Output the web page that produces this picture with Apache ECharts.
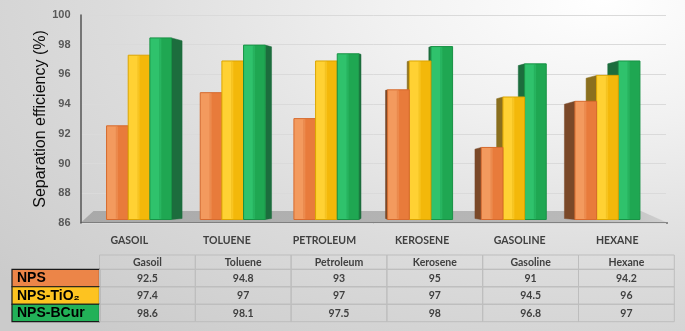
<!DOCTYPE html>
<html>
<head>
<meta charset="utf-8">
<script src="https://cdn.jsdelivr.net/npm/echarts@6.0.0/dist/echarts.min.js"></script>
<style>
    html, body { margin: 0; padding: 0; }
    #main {
        width: 685px; height: 331px;
        background: radial-gradient(ellipse 115% 130% at 88% 0%, #ffffff 0%, #f1f1f1 28%, #dcdcdc 62%, #cbcbcb 100%);
    }
</style>
</head>
<body>
<div id="main"></div>
<script>
// chart data
var categories = ['GASOIL', 'TOLUENE', 'PETROLEUM', 'KEROSENE', 'GASOLINE', 'HEXANE'];
var tableNames = ['Gasoil', 'Toluene', 'Petroleum', 'Kerosene', 'Gasoline', 'Hexane'];
var seriesNames = ['NPS', 'NPS-TiO\u2082', 'NPS-BCur'];
var npsValues = [92.5, 94.8, 93, 95, 91, 94.2];
var tio2Values = [97.4, 97, 97, 97, 94.5, 96];
var bcurValues = [98.6, 98.1, 97.5, 98, 96.8, 97];
var yMin = 86, yMax = 100, yStep = 2;

var allValues = [npsValues, tio2Values, bcurValues];

// colours: [front light, front dark, edge, side]
var palette = [
    ['#f39a5e', '#e87b3b', '#d66a2d', '#7a4828'],
    ['#ffd133', '#f3b80a', '#dca500', '#8a6f1e'],
    ['#2fc26c', '#1fa752', '#189245', '#1c6d3d'],
    ];
var legendFill = ['#ec8548', '#fdc320', '#22b158'];

var gridLeft = 80.5, gridRight = 19, gridTop = 15, gridBottom = 108;

var myChart = echarts.init(document.getElementById('main'));

var renderBar = function (sIdx) {
    return function (params, api) {
        var cat = api.value(0), v = api.value(1);
        var top = api.coord([cat, v]);
        var base = api.coord([cat, yMin]);
        var band = api.size([1, 0])[0];
        var cs = params.coordSys;
        var cx = cs.x + cs.width / 2;
        var bw = band * 0.222;
        // bars stand a little behind the axis plane
        var center = cx + (top[0] - cx) * 0.96;
        var x0 = center - 1.5 * bw + sIdx * bw, x1 = x0 + bw;
        var yb = base[1] - 3.5;
        var yt = yb - (base[1] - top[1]) * 0.97;
        var dx = (cx - center) * 0.045;
        var dy = Math.abs(dx) / 11 * 3;
        var c = palette[sIdx];
        var z = dx >= 0 ? sIdx : 2 - sIdx;
        var ex = dx >= 0 ? x1 : x0;
        return {
            type: 'group',
            children: [{
                type: 'polygon',
                z2: z * 3,
                shape: {points: [[ex, yt], [ex + dx, yt + dy], [ex + dx, yb - 1], [ex, yb]]},
                style: {fill: c[3], stroke: c[3], lineWidth: 0.5}
            }, {
                type: 'rect',
                z2: z * 3 + 1,
                shape: {x: x0, y: yt, width: bw, height: yb - yt},
                style: {
                    fill: new echarts.graphic.LinearGradient(0, 0, 1, 0, [
                        {offset: 0, color: c[0]},
                        {offset: 0.45, color: c[0]},
                        {offset: 0.55, color: c[1]},
                        {offset: 1, color: c[1]}
                    ]),
                    stroke: c[2],
                    lineWidth: 1
                }
            }, {
                type: 'line',
                z2: z * 3 + 2,
                shape: {x1: x0 + bw * 0.45, y1: yt + 1, x2: x0 + bw * 0.45, y2: yb - 1},
                style: {stroke: c[2], opacity: 0.35, lineWidth: 1}
            }]
        };
    };
};

var series = allValues.map(function (vals, s) {
    return {
        name: seriesNames[s],
        type: 'custom',
        renderItem: renderBar(s),
        encode: {x: 0, y: 1},
        data: vals.map(function (v, i) {
            return [i, v];
        })
    };
});

// floor under the bars + data table
var chartW = 685;
var floorY = 331 - gridBottom;
var floorRight = chartW - gridRight;
var graphics = [{
    type: 'polygon',
    z: 0,
    shape: {points: [[gridLeft, floorY], [floorRight + 2, floorY], [floorRight - 25, floorY - 12], [gridLeft + 13, floorY - 12]]},
    style: {
        fill: new echarts.graphic.LinearGradient(0, 0, 1, 0, [
            {offset: 0, color: '#a9a9a9'},
            {offset: 0.85, color: '#b9b9b9'},
            {offset: 1, color: '#cfcfcf'}
        ])
    }
}, {
    type: 'line',
    z: 0,
    shape: {x1: gridLeft, y1: floorY, x2: floorRight + 2, y2: floorY},
    style: {stroke: '#6f6f6f', lineWidth: 1.5}
}];

var tbl = {left: 99.5, colW: 95.8, headTop: 255, headH: 14.3, rowH: 17.47, legLeft: 12};
var cellFont = 'bold 10.5px Lato';
tableNames.forEach(function (n, i) {
    var x = tbl.left + i * tbl.colW;
    graphics.push({
        type: 'rect',
        shape: {x: x, y: tbl.headTop, width: tbl.colW, height: tbl.headH},
        style: {fill: 'none', stroke: '#bdbdbd', lineWidth: 1}
    });
    graphics.push({
        type: 'text',
        x: x + tbl.colW / 2, y: tbl.headTop + tbl.headH / 2 + 0.5,
        style: {text: n, font: cellFont, fill: '#404040', align: 'center', verticalAlign: 'middle', textAlign: 'center', textVerticalAlign: 'middle'}
    });
});
allValues.forEach(function (vals, r) {
    var y = tbl.headTop + tbl.headH + r * tbl.rowH;
    graphics.push({
        type: 'rect',
        shape: {x: tbl.legLeft, y: y, width: tbl.left - tbl.legLeft, height: tbl.rowH},
        style: {fill: legendFill[r], stroke: '#1a1a1a', lineWidth: 1.2}
    });
    graphics.push({
        type: 'text',
        x: tbl.legLeft + 5, y: y + tbl.rowH / 2 + 0.5,
        style: {text: seriesNames[r], font: 'bold 14px "Liberation Sans"', fill: '#000', align: 'left', verticalAlign: 'middle', textAlign: 'left', textVerticalAlign: 'middle'}
    });
    vals.forEach(function (v, i) {
        var x = tbl.left + i * tbl.colW;
        graphics.push({
            type: 'rect',
            shape: {x: x, y: y, width: tbl.colW, height: tbl.rowH},
            style: {fill: 'none', stroke: '#bdbdbd', lineWidth: 1}
        });
        graphics.push({
            type: 'text',
            x: x + tbl.colW / 2, y: y + tbl.rowH / 2 + 0.5,
            style: {text: String(v), font: cellFont, fill: '#404040', align: 'center', verticalAlign: 'middle', textAlign: 'center', textVerticalAlign: 'middle'}
        });
    });
});

var option = {
    backgroundColor: 'transparent',
    animation: false,
    grid: {left: gridLeft, right: gridRight, top: gridTop, bottom: gridBottom, containLabel: false},
    xAxis: {
        type: 'category',
        data: categories,
        boundaryGap: true,
        axisLine: {show: false},
        axisTick: {show: false},
        axisLabel: {margin: 12, color: '#404040', fontFamily: 'Lato', fontWeight: 'bold', fontSize: 10.5}
    },
    yAxis: {
        type: 'value',
        min: yMin,
        max: yMax,
        interval: yStep,
        name: 'Separation efficiency (%)',
        nameLocation: 'middle',
        nameGap: 32,
        nameMoveOverlap: false,
        nameTextStyle: {color: '#0d0d0d', fontFamily: 'Liberation Sans', fontSize: 16},
        axisLine: {show: true, lineStyle: {color: '#555', width: 1.5}},
        axisTick: {show: false},
        axisLabel: {margin: 10, color: '#595959', fontFamily: 'Liberation Sans', fontWeight: 'bold', fontSize: 11},
        splitLine: {lineStyle: {color: '#dadada', width: 1}}
    },
    graphic: graphics,
    series: series
};
myChart.setOption(option);
</script>
</body>
</html>
